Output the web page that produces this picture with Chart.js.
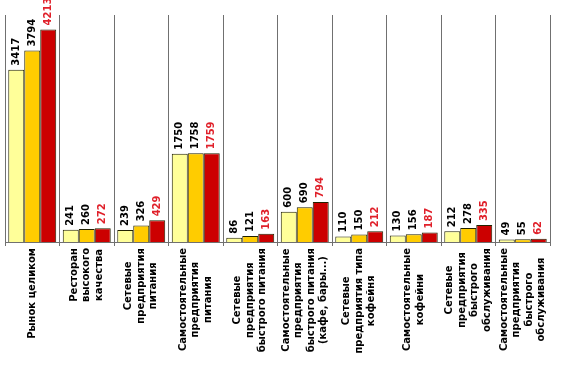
<!DOCTYPE html>
<html>
<head>
<meta charset="utf-8">
<script src="https://cdn.jsdelivr.net/npm/chart.js@4"></script>
<style>
html,body{margin:0;padding:0;background:#fff;}
#wrap{width:561px;height:369px;position:relative;}
</style>
</head>
<body>
<div id="wrap"><canvas id="c" width="561" height="369"></canvas></div>
<script>
const categories = [
  ["Рынок целиком"],
  ["Ресторан", "высокого", "качества"],
  ["Сетевые", "предприятия", "питания"],
  ["Самостоятельные", "предприятия", "питания"],
  ["Сетевые", "предприятия", "быстрого питания"],
  ["Самостоятельные", "предприятия", "быстрого питания", "(кафе, бары...)"],
  ["Сетевые", "предприятия типа", "кофейня"],
  ["Самостоятельные", "кофейни"],
  ["Сетевые", "предприятия", "быстрого", "обслуживания"],
  ["Самостоятельные", "предприятия", "быстрого", "обслуживания"]
];
const series1 = [3417, 241, 239, 1750, 86, 600, 110, 130, 212, 49];
const series2 = [3794, 260, 326, 1758, 121, 690, 150, 156, 278, 55];
const series3 = [4213, 272, 429, 1759, 163, 794, 212, 187, 335, 62];
const seriesColors = ["#FFFF99", "#FFCC00", "#CC0000"];
const labelColors = ["#000000", "#000000", "#E0202A"];

const valueLabels = {
  id: "valueLabels",
  afterDatasetsDraw(chart) {
    const ctx = chart.ctx;
    ctx.save();
    ctx.font = "bold 10px 'DejaVu Sans'";
    ctx.textAlign = "left";
    ctx.textBaseline = "middle";
    chart.data.datasets.forEach((ds, di) => {
      const meta = chart.getDatasetMeta(di);
      meta.data.forEach((bar, i) => {
        ctx.save();
        ctx.fillStyle = labelColors[di];
        ctx.translate(bar.x, bar.y - 4);
        ctx.rotate(-Math.PI / 2);
        ctx.fillText(String(ds.data[i]), 0, 0);
        ctx.restore();
      });
    });
    ctx.restore();
  }
};

const catLabels = {
  id: "catLabels",
  afterDraw(chart) {
    const ctx = chart.ctx;
    const xs = chart.scales.x;
    const yTop = chart.chartArea.bottom + 6;
    ctx.save();
    ctx.font = "bold 10px 'DejaVu Sans'";
    ctx.fillStyle = "#000";
    ctx.textAlign = "center";
    ctx.textBaseline = "middle";
    const lh = 12.5;
    categories.forEach((lines, i) => {
      const cx = xs.getPixelForValue(i);
      let maxW = 0;
      lines.forEach(l => { maxW = Math.max(maxW, ctx.measureText(l).width); });
      ctx.save();
      ctx.translate(cx, yTop);
      ctx.rotate(-Math.PI / 2);
      const n = lines.length;
      lines.forEach((l, k) => {
        ctx.fillText(l, -maxW / 2, (k - (n - 1) / 2) * lh);
      });
      ctx.restore();
    });
    ctx.restore();
  }
};

new Chart(document.getElementById("c"), {
  type: "bar",
  data: {
    labels: categories,
    datasets: [series1, series2, series3].map((d, i) => ({
      data: d,
      backgroundColor: seriesColors[i],
      borderColor: "#222200",
      borderWidth: 1,
      categoryPercentage: 0.88,
      barPercentage: 1.0
    }))
  },
  options: {
    responsive: false,
    animation: false,
    events: [],
    layout: { padding: { left: 5, right: 11, top: 15, bottom: 123 } },
    plugins: { legend: { display: false }, tooltip: { enabled: false } },
    scales: {
      x: {
        grid: { display: true, color: "#707070", lineWidth: 1, offset: true, tickLength: 4, drawTicks: true },
        border: { display: true, color: "#707070", width: 1 },
        ticks: { display: false }
      },
      y: {
        display: false,
        min: 0,
        max: 4500
      }
    }
  },
  plugins: [valueLabels, catLabels]
});
</script>
</body>
</html>
